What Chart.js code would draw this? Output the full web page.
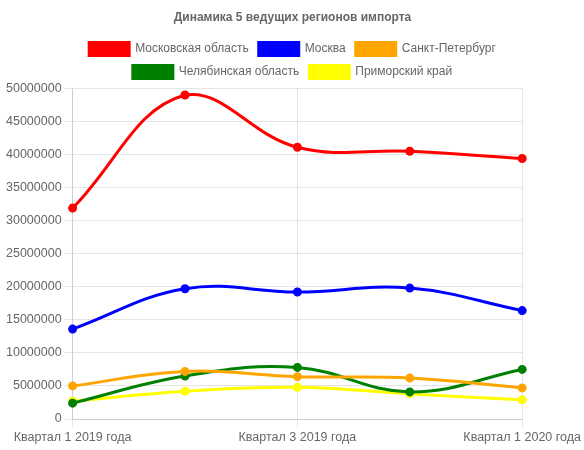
<!DOCTYPE html>
<html>
<head>
<meta charset="utf-8">
<script src="https://cdn.jsdelivr.net/npm/chart.js@4.4.0/dist/chart.umd.min.js"></script>
<style>
  html, body { margin: 0; padding: 0; background: #fff; }
  #wrap { width: 584px; height: 450px; }
</style>
</head>
<body>
<div id="wrap"><canvas id="importChart"></canvas></div>
<script>
const labels = [
  "Квартал 1 2019 года",
  "Квартал 2 2019 года",
  "Квартал 3 2019 года",
  "Квартал 4 2019 года",
  "Квартал 1 2020 года",
];

const moscowRegion = [31900000, 49000000, 41100000, 40500000, 39400000];
const moscow = [13600000, 19700000, 19200000, 19800000, 16400000];
const spb = [5000000, 7200000, 6400000, 6200000, 4700000];
const chelyabinsk = [2400000, 6500000, 7800000, 4100000, 7500000];
const primorsky = [2700000, 4200000, 4800000, 3800000, 2900000];

function makeSet(label, data, color) {
  return {
    label: label,
    data: data,
    borderColor: color,
    backgroundColor: color,
    borderWidth: 3,
    pointRadius: 3,
    pointHoverRadius: 4,
    tension: 0.4,
    fill: false,
  };
}

Chart.defaults.font.family = "'Liberation Sans', Arial, Helvetica, sans-serif";
Chart.defaults.font.size = 12;
Chart.defaults.color = "#666";

const ctx = document.getElementById("importChart").getContext("2d");
const chart = new Chart(ctx, {
  type: "line",
  data: {
    labels: labels,
    datasets: [
      makeSet("Московская область", moscowRegion, "#ff0000"),
      makeSet("Москва", moscow, "#0000ff"),
      makeSet("Санкт-Петербург", spb, "#ffa500"),
      makeSet("Челябинская область", chelyabinsk, "#008000"),
      makeSet("Приморский край", primorsky, "#ffff00"),
    ],
  },
  options: {
    responsive: true,
    maintainAspectRatio: false,
    animation: false,
    layout: { padding: { left: 3, right: 2, top: 0, bottom: 2 } },
    plugins: {
      title: {
        display: true,
        text: "Динамика 5 ведущих регионов импорта",
        font: { size: 12, weight: "bold" },
        color: "#666",
        padding: { top: 10, bottom: 8 },
      },
      legend: {
        labels: {
          boxWidth: 40,
          boxHeight: 13,
          padding: 10,
          color: "#666",
        },
      },
    },
    scales: {
      x: {
        ticks: { maxRotation: 0, autoSkip: true, autoSkipPadding: 12, color: "#666", font: { size: 12.5 } },
        grid: { color: "rgba(0,0,0,0.1)" },
      },
      y: {
        min: 0,
        max: 50000000,
        ticks: { stepSize: 5000000, color: "#666", font: { size: 12.5 }, callback: (v) => String(v) },
        grid: { color: "rgba(0,0,0,0.1)" },
      },
    },
  },
});
</script>
</body>
</html>
